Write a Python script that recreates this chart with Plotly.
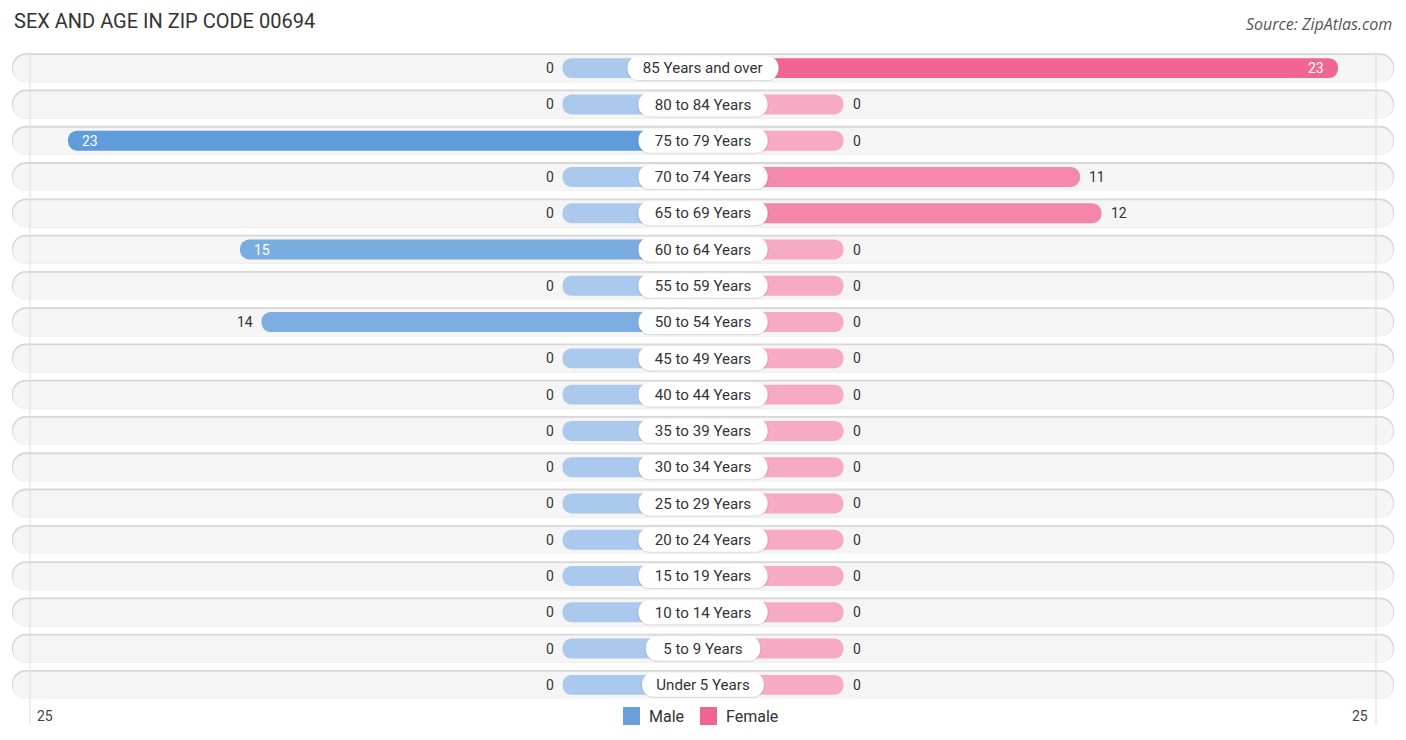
import plotly.graph_objects as go

AGE_GROUPS = ["85 Years and over", "80 to 84 Years", "75 to 79 Years", "70 to 74 Years",
              "65 to 69 Years", "60 to 64 Years", "55 to 59 Years", "50 to 54 Years",
              "45 to 49 Years", "40 to 44 Years", "35 to 39 Years", "30 to 34 Years",
              "25 to 29 Years", "20 to 24 Years", "15 to 19 Years", "10 to 14 Years",
              "5 to 9 Years", "Under 5 Years"]
MALE = [0, 0, 23, 0, 0, 15, 0, 14, 0, 0, 0, 0, 0, 0, 0, 0, 0, 0]
FEMALE = [23, 0, 0, 11, 12, 0, 0, 0, 0, 0, 0, 0, 0, 0, 0, 0, 0, 0]
AXIS_MAX = 25

W, H = 1406, 740
PX = 21.5            # pixels per unit
STUB = 140.5 / PX    # bars start behind the centre label
GRID = 673 / PX      # where the outer grid lines sit
ROW_HALF = 690 / PX  # half length of the grey row pills
VMAX = max(MALE + FEMALE)
TOP, BOTTOM = 50, 37
PLOT_H = H - TOP - BOTTOM


def shade(v, light, dark):
    t = v / VMAX
    return "rgb(%d,%d,%d)" % tuple(round(a + (b - a) * t) for a, b in zip(light, dark))


def px_x(x):
    return x / W


def px_y(y):
    return (H - BOTTOM - y) / PLOT_H


rows = list(range(len(AGE_GROUPS)))
male_cols = [shade(v, (170, 201, 236), (95, 156, 218)) for v in MALE]
female_cols = [shade(v, (247, 170, 196), (240, 101, 145)) for v in FEMALE]
pill_w = [(7.3 * len(s) + 27) / PX for s in AGE_GROUPS]

fig = go.Figure()

# row backgrounds (shadow + fill)
fig.add_trace(go.Bar(y=rows, x=[2 * ROW_HALF + 0.1] * len(rows), base=-ROW_HALF - 0.05,
                     orientation="h", width=0.80, offset=-0.41,
                     marker=dict(color="#d7d7d7", line_width=0), hoverinfo="skip"))
fig.add_trace(go.Bar(y=rows, x=[2 * ROW_HALF] * len(rows), base=-ROW_HALF,
                     orientation="h", width=0.75, offset=-0.36,
                     marker=dict(color="#f5f5f5", line_width=0), hoverinfo="skip"))

# data bars
fig.add_trace(go.Bar(y=rows, x=[-(STUB + v) for v in MALE], orientation="h", width=0.55,
                     marker=dict(color=male_cols, line_width=0), name="Male",
                     hovertemplate="%{customdata}<extra>Male</extra>", customdata=MALE))
fig.add_trace(go.Bar(y=rows, x=[STUB + v for v in FEMALE], orientation="h", width=0.55,
                     marker=dict(color=female_cols, line_width=0), name="Female",
                     hovertemplate="%{customdata}<extra>Female</extra>", customdata=FEMALE))

# centre label pills
fig.add_trace(go.Bar(y=rows, x=[w + 0.1 for w in pill_w], base=[-w / 2 - 0.05 for w in pill_w],
                     orientation="h", width=0.68, offset=-0.32,
                     marker=dict(color="rgba(0,0,0,0.10)", line_width=0), hoverinfo="skip"))
fig.add_trace(go.Bar(y=rows, x=pill_w, base=[-w / 2 for w in pill_w],
                     orientation="h", width=0.66, offset=-0.33,
                     marker=dict(color="white", line_width=0),
                     text=AGE_GROUPS, textposition="inside", insidetextanchor="middle",
                     textfont=dict(family="Roboto", size=16, color="#333333"),
                     hoverinfo="skip"))

ann = []
for i in rows:
    for side, v in ((-1, MALE[i]), (1, FEMALE[i])):
        end = side * (STUB + v)
        if v >= 15:
            ann.append(dict(x=end, y=i, text=str(v), showarrow=False, xshift=-side * 12,
                            xanchor="left" if side < 0 else "right",
                            font=dict(family="Roboto", size=14, color="white")))
        else:
            ann.append(dict(x=end, y=i, text=str(v), showarrow=False, xshift=side * 7,
                            xanchor="right" if side < 0 else "left",
                            font=dict(family="Roboto", size=14, color="#333333")))

for g, anchor, shift in ((-GRID, "left", 5), (GRID, "right", -6)):
    ann.append(dict(x=g, y=px_y(716), yref="paper", yanchor="middle", xanchor=anchor,
                    xshift=shift, text=str(AXIS_MAX), showarrow=False,
                    font=dict(family="Roboto", size=14, color="#444444")))

ann.append(dict(x=px_x(12), y=px_y(21), xref="paper", yref="paper",
                text="SEX AND AGE IN ZIP CODE 00694", showarrow=False,
                xanchor="left", yanchor="middle",
                font=dict(family="Roboto", size=20, color="#333333")))
ann.append(dict(x=px_x(1394), y=px_y(24), xref="paper", yref="paper",
                text="<i>Source: ZipAtlas.com</i>", showarrow=False,
                xanchor="right", yanchor="middle",
                font=dict(family="Open Sans", size=16, color="#555555")))

# legend: swatch + label
shapes = []
for x0, name, col in ((623, "Male", "#6a9fdc"), (700, "Female", "#f06593")):
    shapes.append(dict(type="rect", xref="paper", yref="paper",
                       x0=px_x(x0), x1=px_x(x0 + 17), y0=px_y(725), y1=px_y(707),
                       fillcolor=col, line_width=0))
    ann.append(dict(x=px_x(x0 + 24), y=px_y(716), xref="paper", yref="paper", text=name,
                    showarrow=False, xanchor="left", yanchor="middle",
                    font=dict(family="Roboto", size=16, color="#333333")))

shapes += [dict(type="line", x0=g, x1=g, xref="x", yref="paper", y0=px_y(725), y1=px_y(52),
                line=dict(color="#dddddd", width=1), layer="above") for g in (-GRID, GRID)]

fig.update_layout(
    width=W, height=H,
    margin=dict(l=0, r=0, t=TOP, b=BOTTOM),
    paper_bgcolor="white", plot_bgcolor="white",
    barmode="overlay", barcornerradius="50%",
    xaxis=dict(range=[-703 / PX, 703 / PX], visible=False, fixedrange=True),
    yaxis=dict(range=[len(rows) - 0.5, -0.5], visible=False, fixedrange=True),
    annotations=ann, shapes=shapes,
    showlegend=False,
)

fig.write_html("out.html", config={"displayModeBar": False},
               post_script="document.body.style.margin='0';")
